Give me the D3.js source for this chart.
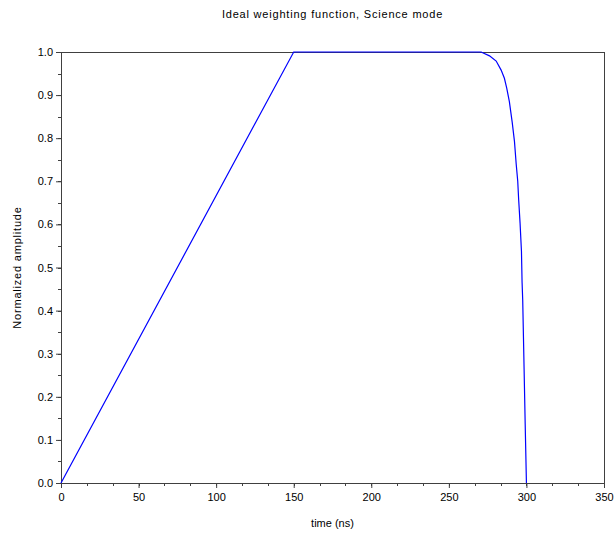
<!DOCTYPE html>
<html>
<head>
<meta charset="UTF-8">
<script src="https://cdnjs.cloudflare.com/ajax/libs/d3/7.8.5/d3.min.js"></script>
<style>
    body { margin: 0; background: #fff; }
    text { font-family: "Liberation Sans", Arial, sans-serif; fill: #000; }
</style>
</head>
<body>
<svg id="chart" width="615" height="536"></svg>
<script>
    // weighting function samples (time in ns, normalized amplitude)
    var times = [0, 150, 270.8, 276.2, 280.5, 283.7, 285.8, 287.3, 289.0, 290.8, 292.3, 293.4, 294.4,
                 295.0, 295.9, 296.8, 297.2, 297.6, 297.9, 298.5, 299.2, 300];
    var amps  = [0, 1, 1, 0.991, 0.979, 0.958, 0.939, 0.916, 0.885, 0.838, 0.792, 0.74, 0.70,
                 0.657, 0.603, 0.537, 0.465, 0.425, 0.371, 0.264, 0.137, 0];
    var xTicks = [0, 50, 100, 150, 200, 250, 300, 350];
    var yTicks = [0, 0.1, 0.2, 0.3, 0.4, 0.5, 0.6, 0.7, 0.8, 0.9, 1.0];

    var svg = d3.select("#chart");
    var mLeft = 61, mRight = 604, mTop = 52, mBottom = 483;

    var x = d3.scaleLinear().domain([0, 350]).range([mLeft, mRight]);
    var y = d3.scaleLinear().domain([0, 1]).range([mBottom, mTop]);

    var axisColor = "#404040";

    // frame (top and right)
    svg.append("rect")
        .attr("x", mLeft + 0.5).attr("y", mTop + 0.5)
        .attr("width", mRight - mLeft).attr("height", mBottom - mTop)
        .style("fill", "none").style("stroke", axisColor).style("stroke-width", 1);

    // minor ticks
    var xMinor = d3.range(0, 351, 50 / 3);
    svg.append("g").selectAll("line")
        .data(xMinor).enter().append("line")
        .attr("x1", d => Math.round(x(d)) + 0.5).attr("x2", d => Math.round(x(d)) + 0.5)
        .attr("y1", mBottom).attr("y2", mBottom + 3)
        .style("stroke", axisColor);
    var yMinor = d3.range(0, 1.001, 0.05);
    svg.append("g").selectAll("line")
        .data(yMinor).enter().append("line")
        .attr("y1", d => Math.round(y(d)) + 0.5).attr("y2", d => Math.round(y(d)) + 0.5)
        .attr("x1", mLeft - 3).attr("x2", mLeft)
        .style("stroke", axisColor);

    var xAxis = svg.append("g")
        .attr("transform", `translate(0,${mBottom})`)
        .call(d3.axisBottom(x).tickValues(xTicks).tickSize(5).tickSizeOuter(0).tickFormat(d3.format("d")));
    var yAxis = svg.append("g")
        .attr("transform", `translate(${mLeft},0)`)
        .call(d3.axisLeft(y).tickValues(yTicks).tickSize(5).tickSizeOuter(0).tickFormat(d3.format(".1f")));

    [xAxis, yAxis].forEach(a => {
        a.select(".domain").style("stroke", axisColor);
        a.selectAll(".tick line").style("stroke", axisColor);
        a.selectAll("text").style("font-family", "Liberation Sans, Arial, sans-serif")
            .style("font-size", "11px").style("fill", "#000");
    });
    xAxis.selectAll("text").attr("dy", "0.71em").attr("y", 10);
    yAxis.selectAll("text").attr("x", -8);

    // curve
    var pts = times.map((t, i) => [t, amps[i]]);
    svg.append("path")
        .datum(pts)
        .attr("d", d3.line().x(d => x(d[0])).y(d => y(d[1])))
        .style("fill", "none").style("stroke", "#0000ff").style("stroke-width", 1.2);

    // labels
    svg.append("text")
        .attr("x", (mLeft + mRight) / 2).attr("y", 18)
        .attr("text-anchor", "middle")
        .style("font-size", "11px")
        .style("letter-spacing", "0.8px")
        .text("Ideal weighting function, Science mode");

    svg.append("text")
        .attr("x", (mLeft + mRight) / 2).attr("y", 527)
        .attr("text-anchor", "middle")
        .style("font-size", "11px")
        .text("time (ns)");

    svg.append("text")
        .attr("transform", `translate(21,${(mTop + mBottom) / 2}) rotate(-90)`)
        .attr("text-anchor", "middle")
        .style("font-size", "11px")
        .style("letter-spacing", "0.8px")
        .text("Normalized amplitude");
</script>
</body>
</html>
